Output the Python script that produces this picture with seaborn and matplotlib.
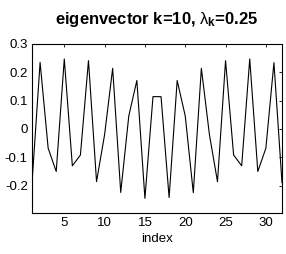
import matplotlib
matplotlib.use("Agg")
import matplotlib.pyplot as plt
import seaborn as sns
import pandas as pd

# values
index = list(range(1, 33))
values = [-0.19, 0.235, -0.068, -0.15, 0.247, -0.13, -0.092, 0.241,
          -0.186, -0.02, 0.214, -0.224, 0.046, 0.171, -0.245, 0.114,
          0.114, -0.242, 0.171, 0.046, -0.225, 0.214, -0.02, -0.186,
          0.241, -0.092, -0.13, 0.247, -0.15, -0.068, 0.234, -0.19]
xticks = [5, 10, 15, 20, 25, 30]
yticks = [-0.2, -0.1, 0, 0.1, 0.2, 0.3]
yticklabels = ["-0.2", "-0.1", "0", "0.1", "0.2", "0.3"]

sns.set_style("white")
plt.rcParams["font.family"] = ["Liberation Sans", "DejaVu Sans"]
plt.rcParams["mathtext.fontset"] = "custom"
plt.rcParams["mathtext.rm"] = "Liberation Sans:bold"
plt.rcParams["mathtext.it"] = "Liberation Sans"
plt.rcParams["mathtext.bf"] = "Liberation Sans:bold"

df = pd.DataFrame({"index": index, "value": values})

fig = plt.figure(figsize=(2.86, 2.54), dpi=100)
ax = fig.add_axes([0.112, 0.161, 0.874, 0.666])
sns.lineplot(data=df, x="index", y="value", color="black", linewidth=0.8, ax=ax)

ax.set_xlim(1, 32)
ax.set_ylim(-0.297, 0.3)
ax.set_xticks(xticks)
ax.set_yticks(yticks)
ax.set_yticklabels(yticklabels)
ax.tick_params(direction="in", length=2.5, width=0.6, labelsize=9.5,
               top=True, right=True, colors="black", labelcolor="black", pad=3)
for s in ax.spines.values():
    s.set_color("black")
    s.set_linewidth(0.8)
ax.set_xlabel("index", fontsize=9.5, labelpad=2.5, color="black")
ax.set_ylabel("")
ax.set_title(r"eigenvector k=10, $\mathit{\lambda}_\mathrm{k}$=0.25", fontsize=12,
             fontweight="bold", pad=14, color="black")

fig.savefig("out.png", dpi=100)
